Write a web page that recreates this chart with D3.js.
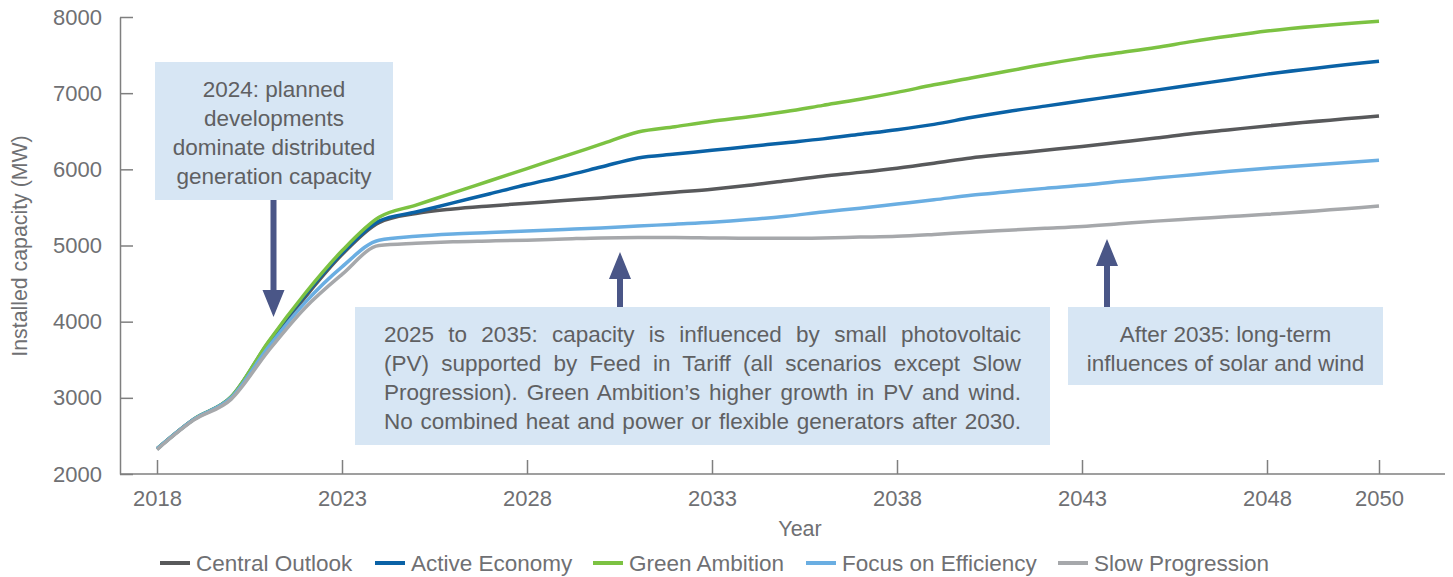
<!DOCTYPE html>
<html>
<head>
<meta charset="utf-8">
<script src="https://cdn.jsdelivr.net/npm/d3@7"></script>
<style>
  body { margin: 0; background: #fff; }
  text { font-family: "Liberation Sans", Arial, sans-serif; }
</style>
</head>
<body>
<div id="chart"></div>
<script>
// years on the axis (2049 not in the series)
const years = [2018,2019,2020,2021,2022,2023,2024,2025,2026,2027,2028,2029,2030,2031,2032,2033,
  2034,2035,2036,2037,2038,2039,2040,2041,2042,2043,2044,2045,2046,2047,2048,2050];
const tickYears = [2018,2023,2028,2033,2038,2043,2048,2050];
const yTicks = [2000,3000,4000,5000,6000,7000,8000];

const centralOutlook = [2330,2720,3000,3700,4320,4880,5300,5420,5480,5520,5555,5590,5625,5660,5700,5740,
  5790,5850,5910,5960,6015,6080,6150,6200,6250,6300,6355,6410,6470,6520,6570,6700];
const activeEconomy = [2330,2720,3010,3720,4350,4900,5320,5440,5560,5680,5800,5910,6030,6150,6200,6250,
  6300,6350,6400,6460,6520,6590,6680,6760,6830,6900,6970,7040,7110,7180,7250,7420];
const greenAmbition = [2330,2720,3010,3730,4370,4930,5370,5530,5690,5850,6010,6170,6330,6490,6560,6630,
  6690,6760,6840,6920,7010,7110,7200,7290,7380,7460,7530,7600,7680,7750,7815,7945];
const focusOnEfficiency = [2330,2720,3000,3660,4250,4720,5070,5120,5150,5170,5190,5210,5230,5255,5280,5305,
  5340,5385,5440,5490,5545,5600,5660,5705,5750,5790,5840,5885,5930,5975,6015,6120];
const slowProgression = [2320,2710,2980,3610,4180,4620,5000,5030,5050,5060,5070,5085,5100,5105,5105,5100,
  5095,5095,5100,5110,5120,5145,5175,5200,5225,5250,5285,5320,5350,5380,5410,5520];

const seriesNames = ["Central Outlook","Active Economy","Green Ambition","Focus on Efficiency","Slow Progression"];
const seriesValues = [centralOutlook, activeEconomy, greenAmbition, focusOnEfficiency, slowProgression];
const colors = ["#58595b","#0a62a6","#7cc242","#6aaee2","#a6a8ab"];

const notes = [
  {x: 155, y: 62, w: 238, h: 138, lines: ["2024: planned","developments","dominate distributed","generation capacity"]},
  {x: 355, y: 307, w: 695, h: 138, justify: 637, lines: ["2025 to 2035: capacity is influenced by small photovoltaic",
    "(PV) supported by Feed in Tariff (all scenarios except Slow","Progression). Green Ambition\u2019s higher growth in PV and wind.",
    "No combined heat and power or flexible generators after 2030."]},
  {x: 1068, y: 307, w: 315, h: 78, lines: ["After 2035: long-term","influences of solar and wind"]}
];

const width = 1453, height = 577;
const svg = d3.select("#chart").append("svg")
  .attr("width", width)
  .attr("height", height);

// 2050 sits further right than the yearly step, like the original axis
const x = d3.scaleLinear()
  .domain([2018, 2048, 2050])
  .range([157, 1267, 1379]);

const y = d3.scaleLinear()
  .domain([2000, 8000])
  .range([474, 17]);

const textColor = "#6f7073";

// y axis
const yAxis = svg.append("g")
  .attr("transform", "translate(120,0)")
  .call(d3.axisLeft(y).tickValues(yTicks).tickSize(-13).tickSizeOuter(0).tickPadding(18).tickFormat(d3.format("d")));
yAxis.selectAll("line, path").attr("stroke", "#7f7f7f").attr("stroke-width", 1.5);
yAxis.selectAll("text").attr("fill", textColor).style("font-size", "22px");

// x axis
const xAxis = svg.append("g")
  .attr("transform", "translate(0,474)")
  .call(d3.axisBottom(x).tickValues(tickYears).tickSize(-14).tickSizeOuter(0).tickPadding(16).tickFormat(d3.format("d")));
xAxis.select(".domain").remove();
xAxis.append("line")
  .attr("x1", 120).attr("x2", 1445)
  .attr("stroke", "#7f7f7f").attr("stroke-width", 1.5);
xAxis.selectAll("line").attr("stroke", "#7f7f7f").attr("stroke-width", 1.5);
xAxis.selectAll("text").attr("fill", textColor).style("font-size", "22px");

svg.append("text")
  .attr("transform", "translate(27,246) rotate(-90)")
  .attr("text-anchor", "middle")
  .attr("fill", textColor)
  .style("font-size", "21.3px")
  .text("Installed capacity (MW)");

svg.append("text")
  .attr("x", 800).attr("y", 536)
  .attr("text-anchor", "middle")
  .attr("fill", textColor)
  .style("font-size", "21.5px")
  .text("Year");

// lines
const line = d3.line()
  .x((d, i) => x(years[i]))
  .y(d => y(d))
  .curve(d3.curveMonotoneX);

svg.append("g").selectAll("path")
  .data(seriesValues)
  .enter().append("path")
    .attr("d", line)
    .attr("fill", "none")
    .attr("stroke", (d, i) => colors[i])
    .attr("stroke-width", 3.5)
    .attr("stroke-linejoin", "round");

// annotation boxes
const boxes = svg.append("g").selectAll("g")
  .data(notes)
  .enter().append("g");
boxes.append("rect")
  .attr("x", d => d.x).attr("y", d => d.y)
  .attr("width", d => d.w).attr("height", d => d.h)
  .attr("fill", "#d7e6f4");
boxes.each(function(d) {
  const t = d3.select(this).selectAll("text")
    .data(d.lines)
    .enter().append("text")
      .attr("x", d.x + d.w / 2)
      .attr("y", (t, i) => d.y + 35 + i * 29)
      .attr("text-anchor", "middle")
      .attr("fill", "#5f6062")
      .style("font-size", "22.5px")
      .text(t => t);
  // justified block: widen word gaps so every line fills the same width
  if (d.justify) {
    t.each(function(s) {
      const gaps = s.split(" ").length - 1;
      const extra = d.justify - this.getComputedTextLength();
      if (gaps > 0 && extra > 0) d3.select(this).attr("word-spacing", extra / gaps);
    });
  }
});

// arrows
const arrowColor = "#4a5687";
function arrow(cx, yTail, yTip) {
  const dir = yTip > yTail ? 1 : -1;
  const headLen = 27, headHalf = 11, shaftHalf = 3;
  const yBase = yTip - dir * headLen;
  svg.append("path")
    .attr("d", `M${cx - shaftHalf},${yTail} L${cx + shaftHalf},${yTail} L${cx + shaftHalf},${yBase} ` +
      `L${cx + headHalf},${yBase} L${cx},${yTip} L${cx - headHalf},${yBase} L${cx - shaftHalf},${yBase} Z`)
    .attr("fill", arrowColor);
}
arrow(273.5, 200, 317);
arrow(620, 307, 252);
arrow(1107, 307, 239);

// legend
const legendX = [160, 375, 593, 806, 1058];
const legend = svg.append("g").selectAll("g")
  .data(seriesNames)
  .enter().append("g")
    .attr("transform", (d, i) => `translate(${legendX[i]},563)`);
legend.append("line")
  .attr("x1", 0).attr("x2", 30)
  .attr("stroke", (d, i) => colors[i])
  .attr("stroke-width", 4);
legend.append("text")
  .attr("x", 36).attr("y", 8)
  .attr("fill", textColor)
  .style("font-size", "22.5px")
  .text(d => d);
</script>
</body>
</html>
